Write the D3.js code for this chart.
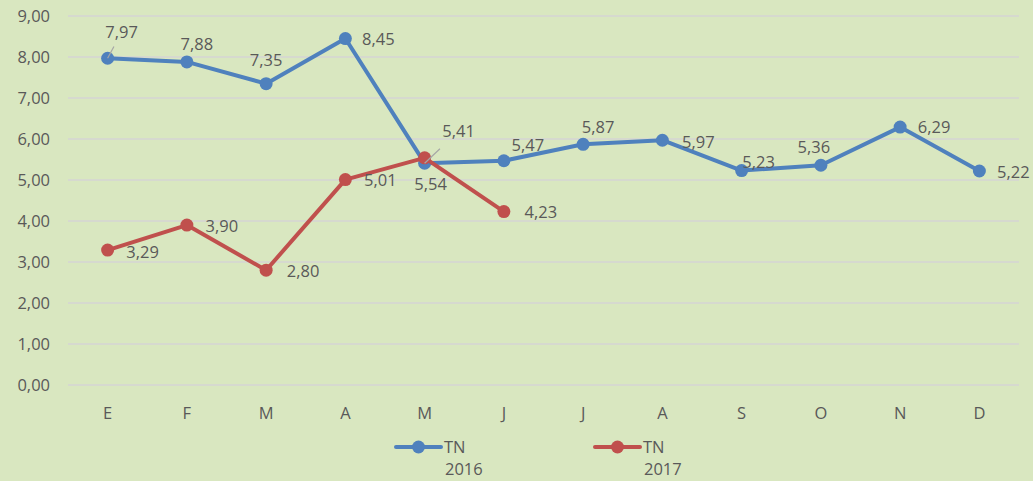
<!DOCTYPE html>
<html><head><meta charset="utf-8">
<script src="https://cdn.jsdelivr.net/npm/d3@7/dist/d3.min.js"></script>
<style>html,body{margin:0;padding:0;background:#d9e7c0;}svg{display:block;font-family:"Open Sans",sans-serif;}</style>
</head><body><svg id="c" width="1033" height="481"></svg>
<script>
const months = ["E","F","M","A","M","J","J","A","S","O","N","D"];
const tn2016 = [7.97,7.88,7.35,8.45,5.41,5.47,5.87,5.97,5.23,5.36,6.29,5.22];
const tn2017 = [3.29,3.90,2.80,5.01,5.54,4.23];
const yTicks = [0,1,2,3,4,5,6,7,8,9];
const seriesNames = ["TN 2016","TN 2017"];

// label offsets (dx, dy from point) — layout only
const off2016 = [[14,-26],[10,-18],[0,-23],[33,1],[34,-32],[24,-16],[15,-17],[36,2],[17,-8],[-7,-18],[34,0],[34,1]];
const off2017 = [[35,2],[35,1],[37,1],[35,1],[6,26],[37,1]];
const leader2016 = {0:true,4:true};

const svg = d3.select("#c");
const W=1033,H=481;
svg.append("rect").attr("width",W).attr("height",H).attr("fill","#d9e7c0");
const x = d3.scaleBand().domain(d3.range(12)).range([68,1019]);
const y = d3.scaleLinear().domain([0,9]).range([385,16]);
const cx = i => x(i)+x.bandwidth()/2;
const txt="#595959", fs=16.5;

// gridlines
svg.append("g").selectAll("line").data(yTicks).join("line")
 .attr("x1",68).attr("x2",1019).attr("y1",d=>y(d)).attr("y2",d=>y(d))
 .attr("stroke","#d4d4d4").attr("stroke-width",1.3);
// y labels
svg.append("g").selectAll("text").data(yTicks).join("text")
 .attr("x",50).attr("y",d=>y(d)).attr("dy","0.35em").attr("text-anchor","end")
 .attr("fill",txt).attr("font-size",fs).text(d=>d.toFixed(2).replace(".",","));
// x labels
svg.append("g").selectAll("text").data(months).join("text")
 .attr("x",(d,i)=>cx(i)).attr("y",413).attr("dy","0.35em").attr("text-anchor","middle")
 .attr("fill",txt).attr("font-size",fs).text(d=>d);

function series(vals,color){
  const g=svg.append("g");
  const line=d3.line().x((d,i)=>cx(i)).y(d=>y(d));
  g.append("path").datum(vals).attr("d",line).attr("fill","none").attr("stroke",color)
   .attr("stroke-width",4).attr("stroke-linejoin","round").attr("stroke-linecap","round");
  g.selectAll("circle").data(vals).join("circle").attr("cx",(d,i)=>cx(i)).attr("cy",d=>y(d))
   .attr("r",6.5).attr("fill",color);
  return g;
}
function labels(vals,offs,leaders){
  const g=svg.append("g");
  vals.forEach((v,i)=>{
    const px=cx(i), py=y(v), o=offs[i];
    if(leaders[i]){
      g.append("line").attr("x1",px).attr("y1",py).attr("x2",px+o[0]*0.45).attr("y2",py+o[1]*0.45)
       .attr("stroke","#a6a6a6").attr("stroke-width",1.2);
    }
    g.append("text").attr("x",px+o[0]).attr("y",py+o[1]).attr("dy","0.35em").attr("text-anchor","middle")
     .attr("fill",txt).attr("font-size",fs).text(v.toFixed(2).replace(".",","));
  });
}
series(tn2016,"#4f81bd");
series(tn2017,"#c0504d");
labels(tn2016,off2016,leader2016);
labels(tn2017,off2017,{});

// legend
const leg=[{x:396,c:"#4f81bd",n:seriesNames[0]},{x:595,c:"#c0504d",n:seriesNames[1]}];
leg.forEach(l=>{
  const g=svg.append("g");
  g.append("line").attr("x1",l.x).attr("x2",l.x+45).attr("y1",447).attr("y2",447).attr("stroke",l.c).attr("stroke-width",4).attr("stroke-linecap","round");
  g.append("circle").attr("cx",l.x+22.5).attr("cy",447).attr("r",6.5).attr("fill",l.c);
  const parts=l.n.split(" ");
  g.append("text").attr("x",l.x+48).attr("y",447).attr("dy","0.35em").attr("fill",txt).attr("font-size",fs).text(parts[0]);
  g.append("text").attr("x",l.x+49).attr("y",469).attr("dy","0.35em").attr("fill",txt).attr("font-size",fs).text(parts[1]);
});
</script></body></html>
